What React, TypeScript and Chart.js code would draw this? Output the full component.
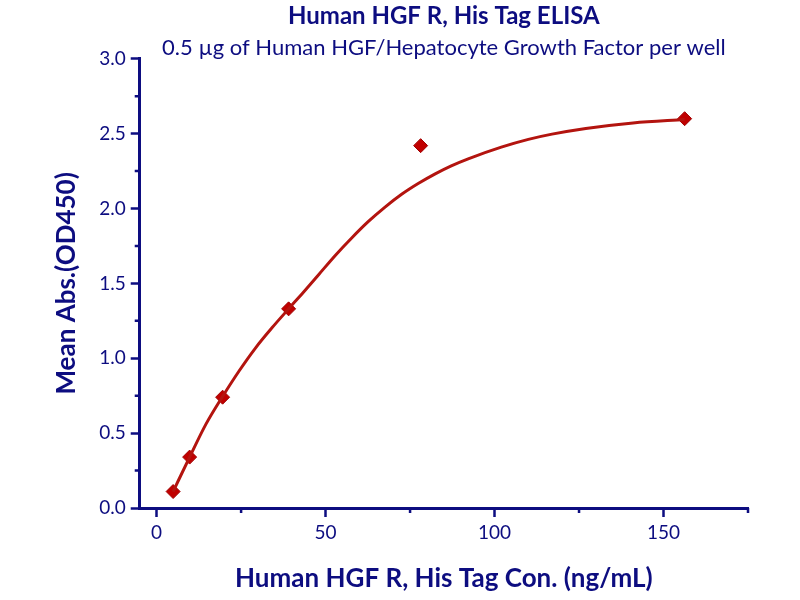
import React, { useEffect, useRef } from 'react';
import Chart from 'chart.js/auto';

// measured points (ng/mL vs OD450)
const concentrations = [4.88, 9.77, 19.53, 39.06, 78.13, 156.25];
const meanAbs = [0.11, 0.34, 0.74, 1.33, 2.42, 2.6];

// fitted curve
const fitX = [
  4.88, 9.77, 14.6, 19.53, 24.4, 29.3, 34.2, 39.06, 43, 48, 53, 57.8, 62.6, 67.5, 72.5, 77.4, 82.3, 87.2, 92.2,
  102, 110, 117, 127, 141, 156.25,
];
const fitY = [
  0.11, 0.34, 0.56, 0.745, 0.915, 1.07, 1.205, 1.33, 1.43, 1.56, 1.69, 1.805, 1.912, 2.008, 2.095, 2.167, 2.23,
  2.285, 2.332, 2.41, 2.462, 2.497, 2.535, 2.572, 2.595,
];

const xLabels = [0, 50, 100, 150];
const yLabels = [0, 0.5, 1, 1.5, 2, 2.5, 3];

const NAVY = '#0d0d80';
const FONT = 'Lato, "Open Sans", sans-serif';

const isLabelled = (list: number[], v: number) => list.some((l) => Math.abs(l - v) < 1e-6);

// shorter ticks for the unlabelled steps
const minorTicks = {
  id: 'minorTicks',
  afterDraw(chart: Chart) {
    const { ctx } = chart;
    const xs = chart.scales.x;
    const ys = chart.scales.y;
    ctx.save();
    ctx.strokeStyle = NAVY;
    ctx.lineWidth = 2.5;
    ctx.beginPath();
    xs.ticks.forEach((t) => {
      if (isLabelled(xLabels, t.value)) return;
      const px = xs.getPixelForValue(t.value);
      ctx.moveTo(px, xs.top);
      ctx.lineTo(px, xs.top + 5);
    });
    ys.ticks.forEach((t) => {
      if (isLabelled(yLabels, t.value)) return;
      const py = ys.getPixelForValue(t.value);
      ctx.moveTo(ys.right, py);
      ctx.lineTo(ys.right - 5, py);
    });
    ctx.stroke();
    ctx.restore();
  },
};

const App: React.FC = () => {
  const chartRef = useRef<HTMLCanvasElement>(null);
  const chartInstance = useRef<Chart | null>(null);

  useEffect(() => {
    if (!chartRef.current) return;
    if (chartInstance.current) chartInstance.current.destroy();

    const ctx = chartRef.current.getContext('2d');
    if (!ctx) return;

    chartInstance.current = new Chart(ctx, {
      type: 'scatter',
      data: {
        datasets: [
          {
            label: 'Fit',
            data: fitX.map((x, i) => ({ x, y: fitY[i] })),
            showLine: true,
            borderColor: '#b3140f',
            borderWidth: 3,
            pointRadius: 0,
            cubicInterpolationMode: 'monotone',
          },
          {
            label: 'Mean Abs.',
            data: concentrations.map((x, i) => ({ x, y: meanAbs[i] })),
            pointStyle: 'rectRot',
            pointRadius: 7,
            backgroundColor: '#c00000',
            borderColor: '#a00000',
            borderWidth: 1,
          },
        ],
      },
      options: {
        responsive: true,
        maintainAspectRatio: false,
        animation: false,
        layout: { padding: { left: 51, right: 52, top: 0, bottom: 6 } },
        plugins: {
          legend: { display: false },
          tooltip: { enabled: false },
          title: {
            display: true,
            text: 'Human HGF R, His Tag ELISA',
            color: NAVY,
            fullSize: false,
            font: { family: FONT, size: 24, weight: 'bold', lineHeight: 1.2 },
            padding: { top: 2, bottom: 6 },
          },
          subtitle: {
            display: true,
            text: '0.5 \u00b5g of Human HGF/Hepatocyte Growth Factor per well',
            color: NAVY,
            fullSize: false,
            font: { family: FONT, size: 22, lineHeight: 1.0 },
            padding: { top: 0, bottom: 0 },
          },
        },
        scales: {
          x: {
            type: 'linear',
            min: -5,
            max: 175,
            border: { color: NAVY, width: 3 },
            grid: {
              drawOnChartArea: false,
              drawTicks: true,
              tickLength: 9,
              tickColor: (c) => (isLabelled(xLabels, c.tick?.value ?? NaN) ? NAVY : 'rgba(0,0,0,0)'),
              tickWidth: 2.5,
            },
            ticks: {
              stepSize: 25,
              includeBounds: false,
              color: NAVY,
              padding: 4,
              font: { family: FONT, size: 19 },
              callback: (v) => (isLabelled(xLabels, Number(v)) ? String(v) : ''),
            },
            title: {
              display: true,
              text: 'Human HGF R, His Tag Con. (ng/mL)',
              color: NAVY,
              font: { family: FONT, size: 26, weight: 'bold' },
              padding: { top: 15, bottom: 0 },
            },
          },
          y: {
            min: 0,
            max: 3,
            border: { color: NAVY, width: 3 },
            grid: {
              drawOnChartArea: false,
              drawTicks: true,
              tickLength: 9,
              tickColor: (c) => (isLabelled(yLabels, c.tick?.value ?? NaN) ? NAVY : 'rgba(0,0,0,0)'),
              tickWidth: 2.5,
            },
            ticks: {
              stepSize: 0.25,
              color: NAVY,
              padding: 5,
              font: { family: FONT, size: 19 },
              callback: (v) => (isLabelled(yLabels, Number(v)) ? Number(v).toFixed(1) : ''),
            },
            title: {
              display: true,
              text: 'Mean Abs.(OD450)',
              color: NAVY,
              font: { family: FONT, size: 26, weight: 'bold' },
              padding: { top: 0, bottom: 12 },
            },
          },
        },
      },
      plugins: [minorTicks],
    });

    return () => {
      if (chartInstance.current) {
        chartInstance.current.destroy();
        chartInstance.current = null;
      }
    };
  }, []);

  return (
    <div style={{ position: 'absolute', left: 0, top: 0, width: 800, height: 600, background: '#fff' }}>
      <canvas ref={chartRef}></canvas>
    </div>
  );
};

export default App;
